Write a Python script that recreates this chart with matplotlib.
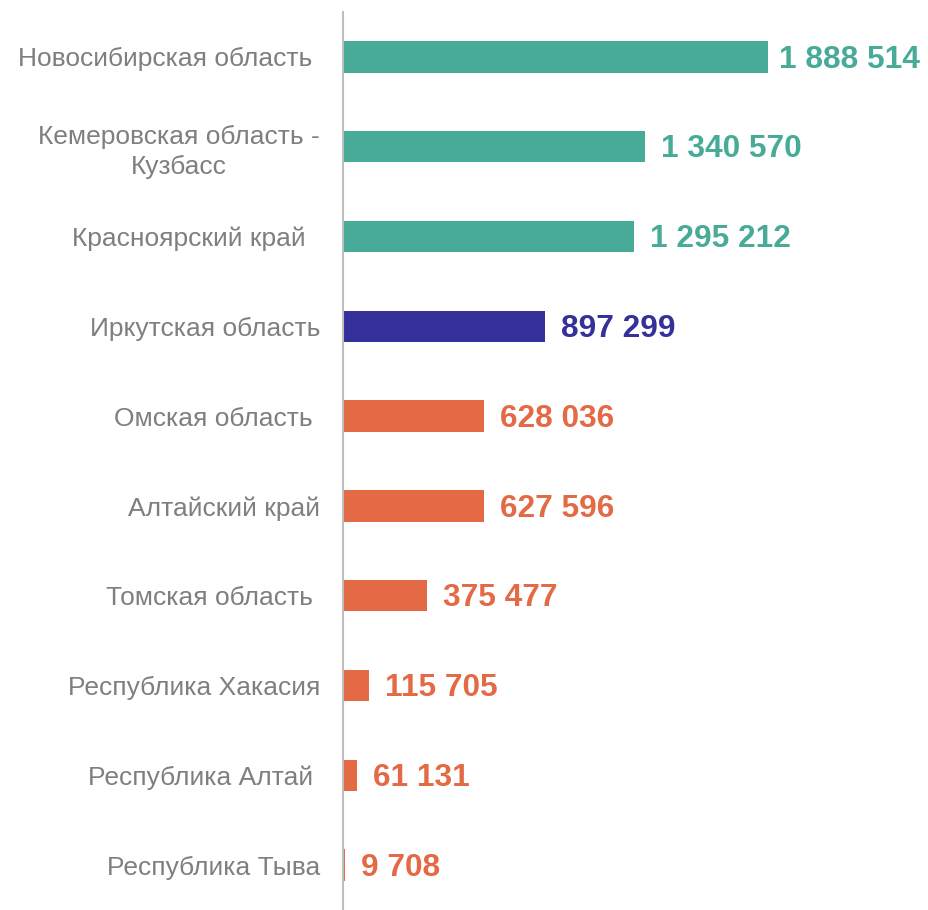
import matplotlib.pyplot as plt

plt.rcParams['font.family'] = ['Liberation Sans', 'DejaVu Sans']

regions = [
    "Новосибирская область ",
    "Кемеровская область -\nКузбасс",
    "Красноярский край  ",
    "Иркутская область",
    "Омская область ",
    "Алтайский край",
    "Томская область ",
    "Республика Хакасия",
    "Республика Алтай ",
    "Республика Тыва",
]
values = [1888514, 1340570, 1295212, 897299, 628036, 627596, 375477, 115705, 61131, 9708]
groups = ["top", "top", "top", "own", "low", "low", "low", "low", "low", "low"]

colors = {"top": "#47AB98", "own": "#35309A", "low": "#E46A45"}
bar_colors = [colors[g] for g in groups]


def fmt(v):
    return f"{v:,}".replace(",", " ")


fig = plt.figure(figsize=(9.29, 9.10), dpi=100)
ax = fig.add_axes([343 / 929, 0, 1 - 343 / 929, 898 / 910])

ypos = list(range(len(values)))
ax.barh(ypos, values, height=0.35, color=bar_colors, left=0)
ax.set_ylim(len(values) - 0.5, -0.5)
ax.set_xlim(0, 2604000)

for y, v, c in zip(ypos, values, bar_colors):
    # the longest label is pulled in a bit so it fits inside the figure
    dx = 8 if y == 0 else 11.5
    ax.annotate(fmt(v), (v, y), xytext=(dx, -2), textcoords="offset points",
                va="center", ha="left", fontsize=22.8, fontweight="bold", color=c)

ax.set_yticks(ypos)
ax.set_yticklabels(regions, fontsize=19, color="#7F7F7F", ha="right",
                   multialignment="center", linespacing=1.3)
ax.tick_params(axis="y", length=0, pad=16.5)
ax.set_xticks([])

for s in ["top", "right", "bottom"]:
    ax.spines[s].set_visible(False)
ax.spines["left"].set_color("#BFBFBF")
ax.spines["left"].set_linewidth(1.5)

fig.savefig("out.png", dpi=100)
